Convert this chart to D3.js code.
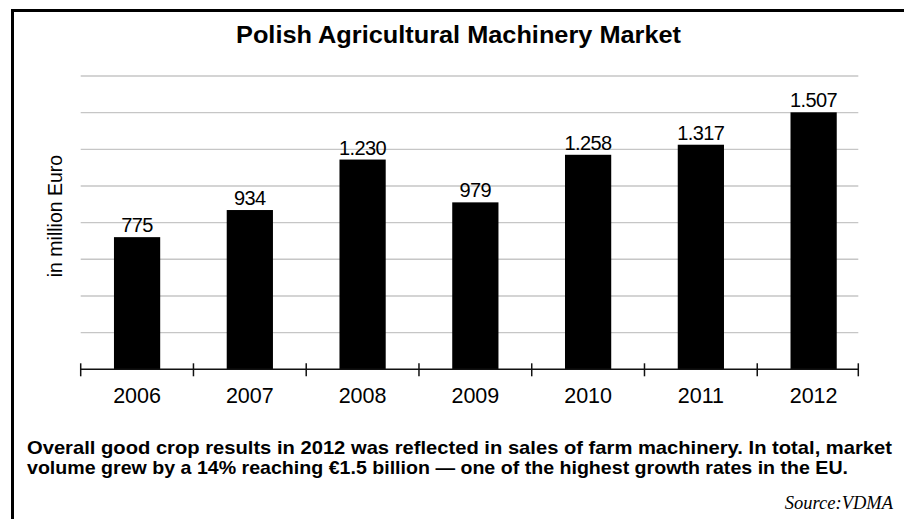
<!DOCTYPE html>
<html>
<head>
<meta charset="utf-8">
<title>Polish Agricultural Machinery Market</title>
<script src="https://cdn.jsdelivr.net/npm/d3@7.9.0/dist/d3.min.js"></script>
<style>
  html, body { margin: 0; padding: 0; background: #fff; }
  svg { display: block; }
</style>
</head>
<body>
<svg id="chart" width="904" height="519"></svg>
<script>
/* ---- DATA --------------------------------------------------------------- */
var years  = ['2006', '2007', '2008', '2009', '2010', '2011', '2012'];
var sales  = [775, 934, 1230, 979, 1258, 1317, 1507];   // million Euro
var gridValues = [215, 430, 645, 860, 1075, 1290, 1505, 1720];
var titleText  = 'Polish Agricultural Machinery Market';
var yLabelText = 'in million Euro';
var captionLines = [
  'Overall good crop results in 2012 was reflected in sales of farm machinery. In total, market',
  'volume grew by a 14% reaching \u20ac1.5 billion \u2014 one of the highest growth rates in the EU.'
];
var sourceText = 'Source:VDMA';

(function () {
  'use strict';

  /* ---- CONFIG ----------------------------------------------------------- */
  var CONFIG = {
    plot: { left: 80.7, right: 858.3, top: 76, bottom: 369.3 },
    bandEnd: 870,            // last band runs past the clipped right edge
    sans: '"Liberation Sans", Arial, Helvetica, sans-serif',
    serif: '"Liberation Serif", "Times New Roman", serif',
    grid: '#c6c6c6'
  };

  // Euro-style grouping: 1230 -> "1.230"
  var fmt = d3.formatLocale({ decimal: ',', thousands: '.', grouping: [3], currency: ['\u20ac', ''] }).format(',');

  var svg = d3.select('#chart');
  var p = CONFIG.plot;

  var x = d3.scaleBand().domain(years).range([p.left, CONFIG.bandEnd])
    .paddingInner(0.59).paddingOuter(0.295);
  var y = d3.scaleLinear().domain([0, 1720]).range([p.bottom, p.top]);
  var step = x.step();
  function bandStart(d) { return x(d) - step * x.paddingInner() / 2; }

  /* ---- squeeze/stretch a text node to an exact width -------------------- */
  function fitWidth(sel, w) {
    sel.attr('textLength', w).attr('lengthAdjust', 'spacingAndGlyphs');
  }

  /* ---- frame (open to the right and bottom, as cropped) ----------------- */
  svg.append('path')
    .attr('d', 'M12.5,530 L12.5,10.5 L910,10.5')
    .attr('fill', 'none').attr('stroke', '#000').attr('stroke-width', 3);

  /* ---- title ------------------------------------------------------------ */
  svg.append('text')
    .attr('x', 236).attr('y', 42.5)
    .attr('font-family', CONFIG.sans).attr('font-weight', 700).attr('font-size', 23.5)
    .attr('fill', '#000')
    .text(titleText)
    .call(fitWidth, 445);

  /* ---- gridlines -------------------------------------------------------- */
  svg.append('g').selectAll('line').data(gridValues).join('line')
    .attr('x1', p.left).attr('x2', p.right)
    .attr('y1', function (d) { return y(d); }).attr('y2', function (d) { return y(d); })
    .attr('stroke', CONFIG.grid).attr('stroke-width', 1.4);

  /* ---- bars ------------------------------------------------------------- */
  svg.append('g').selectAll('rect').data(sales).join('rect')
    .attr('x', function (d, i) { return x(years[i]); })
    .attr('width', x.bandwidth())
    .attr('y', function (d) { return y(d); })
    .attr('height', function (d) { return y(0) - y(d); })
    .attr('fill', '#000');

  /* ---- value labels ----------------------------------------------------- */
  svg.append('g').selectAll('text').data(sales).join('text')
    .attr('x', function (d, i) { return x(years[i]) + x.bandwidth() / 2; })
    .attr('y', function (d) { return y(d) - 5; })
    .attr('text-anchor', 'middle')
    .attr('font-family', CONFIG.sans).attr('font-size', 20).attr('fill', '#000')
    .attr('letter-spacing', -0.6)
    .text(function (d) { return fmt(d); });

  /* ---- x axis: line with ticks at band boundaries ----------------------- */
  var axis = svg.append('g');
  axis.append('line')
    .attr('x1', p.left).attr('x2', p.right).attr('y1', y(0)).attr('y2', y(0))
    .attr('stroke', '#111').attr('stroke-width', 1.5);
  var tickXs = years.map(bandStart).concat([p.right]);
  axis.selectAll('line.tick').data(tickXs).join('line')
    .attr('class', 'tick')
    .attr('x1', function (d) { return d; }).attr('x2', function (d) { return d; })
    .attr('y1', y(0) - 6).attr('y2', y(0) + 7)
    .attr('stroke', '#111').attr('stroke-width', 1.5);
  axis.selectAll('text').data(years).join('text')
    .attr('x', function (d) { return x(d) + x.bandwidth() / 2; })
    .attr('y', 402.5)
    .attr('text-anchor', 'middle')
    .attr('font-family', CONFIG.sans).attr('font-size', 21.5).attr('fill', '#000')
    .text(function (d) { return d; });

  /* ---- y axis title ----------------------------------------------------- */
  svg.append('text')
    .attr('transform', 'translate(61.5,' + (p.top + p.bottom) / 2 + ') rotate(-90)')
    .attr('x', 6.6).attr('y', 0)
    .attr('text-anchor', 'middle')
    .attr('font-family', CONFIG.sans).attr('font-size', 19.5).attr('fill', '#000')
    .text(yLabelText);

  /* ---- caption + source ------------------------------------------------- */
  var capWidths = [865, 821];
  svg.append('g').selectAll('text').data(captionLines).join('text')
    .attr('x', 27).attr('y', function (d, i) { return 454 + i * 19.5; })
    .attr('font-family', CONFIG.sans).attr('font-weight', 700).attr('font-size', 19)
    .attr('fill', '#000')
    .text(function (d) { return d; })
    .each(function (d, i) { d3.select(this).call(fitWidth, capWidths[i]); });

  svg.append('text')
    .attr('x', 893).attr('y', 508.5)
    .attr('text-anchor', 'end')
    .attr('font-family', CONFIG.serif).attr('font-style', 'italic').attr('font-size', 18.5)
    .attr('fill', '#000')
    .text(sourceText);
})();
</script>
</body>
</html>
